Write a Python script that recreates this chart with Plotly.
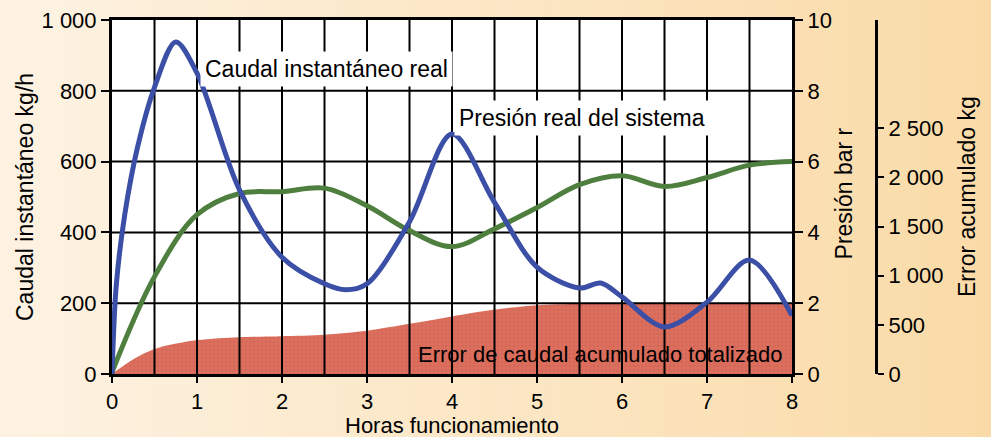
import plotly.graph_objects as go

# ---------------- data ----------------
hours_flow = [0, 0.05, 0.15, 0.3, 0.5, 0.75, 1.0, 1.5, 2.0, 2.5, 2.75, 3.0, 3.5, 4.0, 4.5, 5.0, 5.5, 5.75, 6.0, 6.5, 7.0, 7.5, 8.0]
flow_kgh = [0, 250, 450, 640, 810, 938, 850, 520, 330, 255, 238, 255, 430, 678, 485, 302, 243, 257, 218, 133, 203, 322, 165]

hours_press = [0, 0.5, 1.0, 1.5, 2.0, 2.5, 3.0, 3.5, 4.0, 4.5, 5.0, 5.5, 6.0, 6.5, 7.0, 7.5, 8.0]
press_bar = [0.05, 2.75, 4.5, 5.1, 5.15, 5.25, 4.75, 4.05, 3.6, 4.1, 4.7, 5.35, 5.6, 5.3, 5.55, 5.9, 6.0]

hours_err = [0, 0.25, 0.5, 1.0, 1.5, 2.0, 2.5, 3.0, 3.5, 4.0, 4.5, 5.0, 5.5, 6.0, 7.0, 8.0]
error_kg = [0, 150, 255, 345, 375, 385, 400, 440, 510, 585, 655, 700, 715, 720, 722, 722]

x_ticks = [0, 1, 2, 3, 4, 5, 6, 7, 8]
flow_ticks = [0, 200, 400, 600, 800, 1000]
flow_ticktext = ["0", "200", "400", "600", "800", "1 000"]
press_ticks = [0, 2, 4, 6, 8, 10]
err_ticks = [0, 500, 1000, 1500, 2000, 2500]
err_ticktext = ["0", "500", "1 000", "1 500", "2 000", "2 500"]
grid_x = [0.5, 1, 1.5, 2, 2.5, 3, 3.5, 4, 4.5, 5, 5.5, 6, 6.5, 7, 7.5]
grid_press = [2, 4, 6, 8]

# ---------------- layout geometry ----------------
W, H = 991, 437
L, R, T, B = 112, 60, 20, 63
plot_w_px = 680
paper_w = W - L - R
paper_h = H - T - B
dom_right = plot_w_px / paper_w
err_pos = (876 - L) / paper_w

FONT = "Liberation Sans, Arial, sans-serif"
TICK_SIZE = 22
LABEL_SIZE = 23

fig = go.Figure()

# accumulated error fill (main y axis, drawn first / lowest)
fig.add_trace(go.Scatter(
    x=hours_err, y=error_kg, yaxis="y", mode="lines",
    line=dict(width=0, shape="spline", smoothing=0.8),
    fill="tozeroy", fillcolor="#d96b5a",
    fillpattern=dict(shape=".", bgcolor="#db6f5e", fgcolor="#cf5a4c", size=4, solidity=0.25, fillmode="overlay"),
    hoverinfo="skip", showlegend=False))

# grid lines on pressure axis (over the fill, under the curves)
gx, gy = [], []
for v in grid_x:
    gx += [v, v, None]
    gy += [0, 10, None]
for v in grid_press:
    gx += [0, 8, None]
    gy += [v, v, None]
fig.add_trace(go.Scatter(x=gx, y=gy, yaxis="y2", mode="lines", line=dict(color="black", width=2),
                         hoverinfo="skip", showlegend=False))

# pressure
fig.add_trace(go.Scatter(x=hours_press, y=press_bar, yaxis="y2", mode="lines",
                         line=dict(color="#4e7f3e", width=5, shape="spline", smoothing=1.0),
                         showlegend=False))
# flow
fig.add_trace(go.Scatter(x=hours_flow, y=flow_kgh, yaxis="y3", mode="lines",
                         line=dict(color="#3b4fa6", width=5, shape="spline", smoothing=0.9),
                         showlegend=False))

# background gradient strips
shapes = []
n = 60
x0p = -L / paper_w
x1p = (W - L) / paper_w
c0 = (253, 242, 226)
c1 = (250, 219, 168)
for i in range(n):
    t = i / (n - 1)
    c = tuple(round(c0[k] + (c1[k] - c0[k]) * t) for k in range(3))
    xa = x0p + (x1p - x0p) * i / n
    xb = x0p + (x1p - x0p) * (i + 1) / n + 0.002
    shapes.append(dict(type="rect", xref="paper", yref="paper", x0=xa, x1=xb,
                       y0=-B / paper_h - 0.01, y1=(paper_h + T) / paper_h + 0.01,
                       fillcolor="rgb(%d,%d,%d)" % c, line=dict(width=0), layer="below"))
shapes.append(dict(type="rect", xref="paper", yref="paper", x0=0, x1=dom_right, y0=0, y1=1,
                   fillcolor="white", line=dict(width=0), layer="below"))

annotations = [
    dict(x=2.52, y=8.62, xref="x", yref="y2", text="Caudal instantáneo real", showarrow=False,
         font=dict(size=LABEL_SIZE, color="black", family=FONT), bgcolor="white", borderpad=4),
    dict(x=5.53, y=7.22, xref="x", yref="y2", text="Presión real del sistema", showarrow=False,
         font=dict(size=LABEL_SIZE, color="black", family=FONT), bgcolor="white", borderpad=4),
    dict(x=5.74, y=0.55, xref="x", yref="y2", text="Error de caudal acumulado totalizado", showarrow=False,
         font=dict(size=LABEL_SIZE - 1, color="black", family=FONT)),
    dict(x=(25 - L) / paper_w, y=0.5, xref="paper", yref="paper", text="Caudal instantáneo kg/h",
         textangle=-90, showarrow=False, xanchor="center", yanchor="middle",
         font=dict(size=LABEL_SIZE, color="black", family=FONT)),
    dict(x=(844 - L) / paper_w, y=0.51, xref="paper", yref="paper", text="Presión bar r",
         textangle=-90, showarrow=False, xanchor="center", yanchor="middle",
         font=dict(size=LABEL_SIZE, color="black", family=FONT)),
    dict(x=(967 - L) / paper_w, y=0.5, xref="paper", yref="paper", text="Error acumulado kg",
         textangle=-90, showarrow=False, xanchor="center", yanchor="middle",
         font=dict(size=LABEL_SIZE, color="black", family=FONT)),
    dict(x=0.5 * dom_right, y=-51 / paper_h, xref="paper", yref="paper", text="Horas funcionamiento",
         showarrow=False, xanchor="center", yanchor="middle",
         font=dict(size=LABEL_SIZE - 1, color="black", family=FONT)),
]

axis_common = dict(ticks="outside", tickwidth=2, tickcolor="black", showgrid=False, zeroline=False,
                   showline=True, linecolor="black", linewidth=3,
                   tickfont=dict(size=TICK_SIZE, family=FONT, color="black"))

fig.update_layout(
    width=W, height=H,
    margin=dict(l=L, r=R, t=T, b=B, autoexpand=False),
    paper_bgcolor="#fbe6c6",
    plot_bgcolor="rgba(0,0,0,0)",
    font=dict(family=FONT, size=TICK_SIZE, color="black"),
    shapes=shapes,
    annotations=annotations,
    xaxis=dict(domain=[0, dom_right], range=[0, 8], tickvals=x_ticks, ticklen=6, mirror=True,
               **axis_common),
    yaxis=dict(range=[0, 3600], tickvals=err_ticks, ticktext=err_ticktext, side="right",
               anchor="free", position=err_pos, ticklen=6, **axis_common),
    yaxis2=dict(range=[0, 10], tickvals=press_ticks, overlaying="y", side="right", anchor="x",
                ticklen=8, **axis_common),
    yaxis3=dict(range=[0, 1000], tickvals=flow_ticks, ticktext=flow_ticktext, overlaying="y",
                side="left", anchor="x", ticklen=8, **axis_common),
)

fig.write_html("out.html", config={"displayModeBar": False},
               post_script="document.body.style.margin='0';document.body.style.overflow='hidden';")
